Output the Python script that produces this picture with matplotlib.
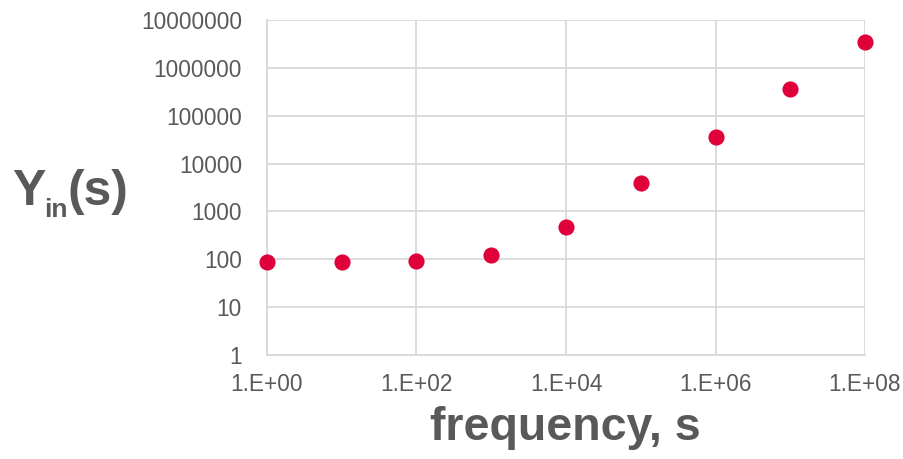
import matplotlib
matplotlib.use('agg')
import math
import matplotlib.pyplot as plt
from matplotlib.ticker import FixedLocator, FuncFormatter, NullLocator

plt.rcParams['font.family'] = ['Liberation Sans', 'DejaVu Sans']

# data
freq = [1e0, 1e1, 1e2, 1e3, 1e4, 1e5, 1e6, 1e7, 1e8]
y_in = [89, 89, 93, 125, 470, 3850, 35500, 360000, 3500000]

xticks = [1e0, 1e2, 1e4, 1e6, 1e8]
yticks = [1, 10, 100, 1000, 10000, 100000, 1000000, 10000000]

grey = '#595959'
grid = '#d9d9d9'
W, H = 904, 459

fig = plt.figure(figsize=(W / 100, H / 100), dpi=100)
ax = fig.add_axes([267 / W, 1 - 355 / H, (865 - 267) / W, (355 - 20) / H])

ax.scatter(freq, y_in, s=135, color='#E0003A', zorder=3, linewidths=0,
           clip_on=False)

ax.set_xscale('log')
ax.set_yscale('log')
ax.set_xlim(1e0, 1e8)
ax.set_ylim(1, 1e7)

ax.xaxis.set_major_locator(FixedLocator(xticks))
ax.xaxis.set_minor_locator(NullLocator())
ax.yaxis.set_major_locator(FixedLocator(yticks))
ax.yaxis.set_minor_locator(NullLocator())
ax.xaxis.set_major_formatter(FuncFormatter(lambda v, p: '1.E+%02d' % round(math.log10(v))))
ax.yaxis.set_major_formatter(FuncFormatter(lambda v, p: '%d' % v))

ax.grid(True, color=grid, linewidth=1.3)
ax.set_axisbelow(True)
for s in ax.spines.values():
    s.set_visible(False)
for side in ['bottom', 'left']:
    ax.spines[side].set_visible(True)
    ax.spines[side].set_color(grid)
    ax.spines[side].set_linewidth(1.3)

ax.tick_params(length=0, labelsize=16.3, colors=grey)
ax.tick_params(axis='y', pad=18)
ax.tick_params(axis='x', pad=13)

# axis titles
fig.text(565 / W, 1 - 440 / H, 'frequency, s', ha='center', va='baseline',
         fontsize=33.5, fontweight='bold', color=grey)
fig.text(12 / W, 1 - 205 / H, 'Y', ha='left', va='baseline',
         fontsize=36, fontweight='bold', color=grey)
fig.text(44 / W, 1 - 217 / H, 'in', ha='left', va='baseline',
         fontsize=19, fontweight='bold', color=grey)
fig.text(67 / W, 1 - 205 / H, '(s)', ha='left', va='baseline',
         fontsize=36, fontweight='bold', color=grey)

plt.savefig('out.png', dpi=100)
